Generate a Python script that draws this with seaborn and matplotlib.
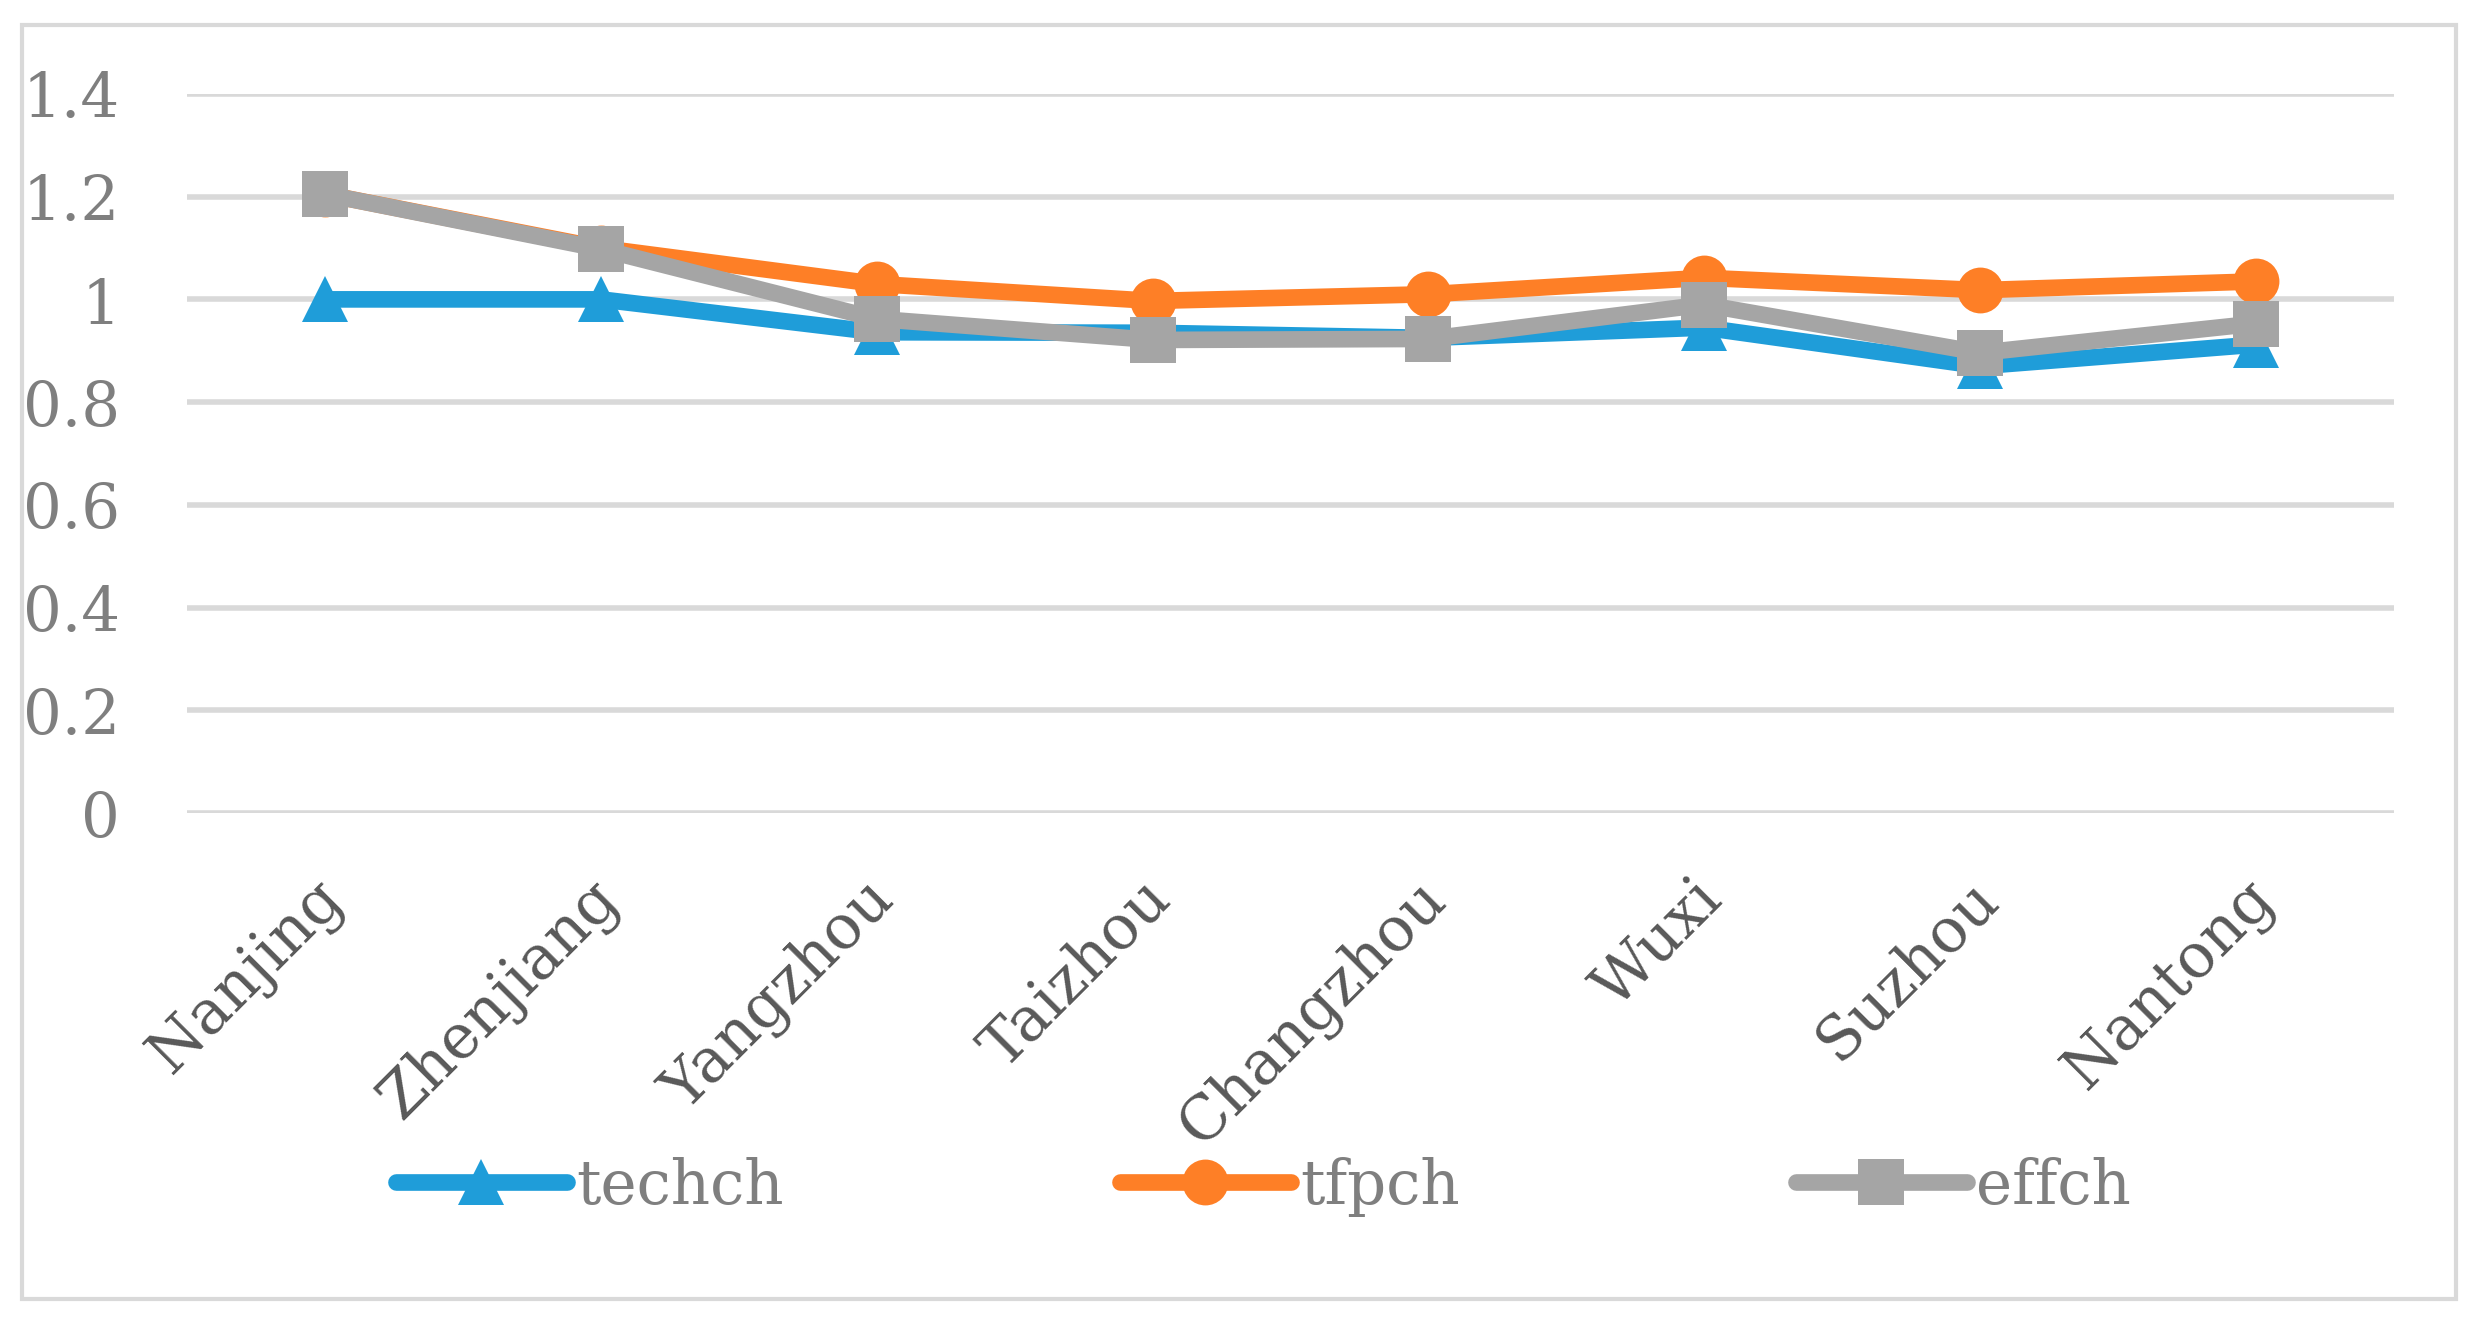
import numpy as np
import pandas as pd
import matplotlib
matplotlib.use("Agg")
import matplotlib.pyplot as plt
from matplotlib.lines import Line2D
from matplotlib.patches import Rectangle
from matplotlib.transforms import ScaledTranslation
import seaborn as sns

# data
cities = ["Nanjing", "Zhenjiang", "Yangzhou", "Taizhou",
          "Changzhou", "Wuxi", "Suzhou", "Nantong"]
techch = [1.0, 1.0, 0.936, 0.935, 0.925, 0.945, 0.87, 0.912]
tfpch = [1.205, 1.1, 1.03, 0.997, 1.01, 1.042, 1.018, 1.035]
effch = [1.205, 1.098, 0.962, 0.921, 0.923, 0.99, 0.896, 0.953]
series_names = ["techch", "tfpch", "effch"]
y_ticks = [0, 0.2, 0.4, 0.6, 0.8, 1.0, 1.2, 1.4]

colors = {"techch": "#1F9DD9", "tfpch": "#FE7F26", "effch": "#A5A5A5"}
markers = {"techch": "^", "tfpch": "o", "effch": "s"}

df = pd.DataFrame({
    "city": cities * 3,
    "value": techch + tfpch + effch,
    "series": [s for s in series_names for _ in cities],
})

sns.set_style("white")
plt.rcParams["font.family"] = ["DejaVu Serif"]

fig = plt.figure(figsize=(24.82, 13.23), dpi=100)
ax = fig.add_axes([0.0753, 0.3855, 0.8893, 0.5435])

for name in series_names:
    sub = df[df["series"] == name]
    sns.lineplot(data=sub, x="city", y="value", ax=ax, color=colors[name],
                 marker=markers[name], markersize=33, markeredgewidth=0,
                 linewidth=12, sort=False, legend=False)

ax.set_xlim(-0.5, len(cities) - 0.5)
ax.set_ylim(0, 1.4)
ax.set_yticks(y_ticks)
ax.set_yticklabels([f"{v:g}" for v in y_ticks], color="#7F7F7F", fontsize=44)
ax.set_xticks(range(len(cities)))
ax.set_xticklabels(cities, rotation=45, ha="right", color="#595959", fontsize=44)
ax.tick_params(axis="y", length=0, pad=48)
ax.tick_params(axis="x", length=0, pad=40)
# nudge the rotated city names a little to the right, like the original
shift = ScaledTranslation(0.3, 0, fig.dpi_scale_trans)
for lbl in ax.get_xticklabels():
    lbl.set_transform(lbl.get_transform() + shift)
ax.set_xlabel("")
ax.set_ylabel("")
ax.yaxis.grid(True, color="#D9D9D9", linewidth=4)
ax.xaxis.grid(False)
ax.set_axisbelow(True)
for sp in ax.spines.values():
    sp.set_visible(False)

handles = [Line2D([0], [0], color=colors[n], marker=markers[n], markersize=33,
                  markeredgewidth=0, linewidth=12) for n in series_names]
fig.legend(handles, series_names, loc="center", bbox_to_anchor=(0.509, 0.103),
           ncol=3, frameon=False, fontsize=44, labelcolor="#7F7F7F",
           handlelength=2.8, handletextpad=0.15, columnspacing=5.5)

fig.patches.append(Rectangle((22 / 2482, 24 / 1323), 2434 / 2482, 1274 / 1323,
                             transform=fig.transFigure, fill=False,
                             edgecolor="#D9D9D9", linewidth=3))

fig.savefig("out.png", dpi=100)
